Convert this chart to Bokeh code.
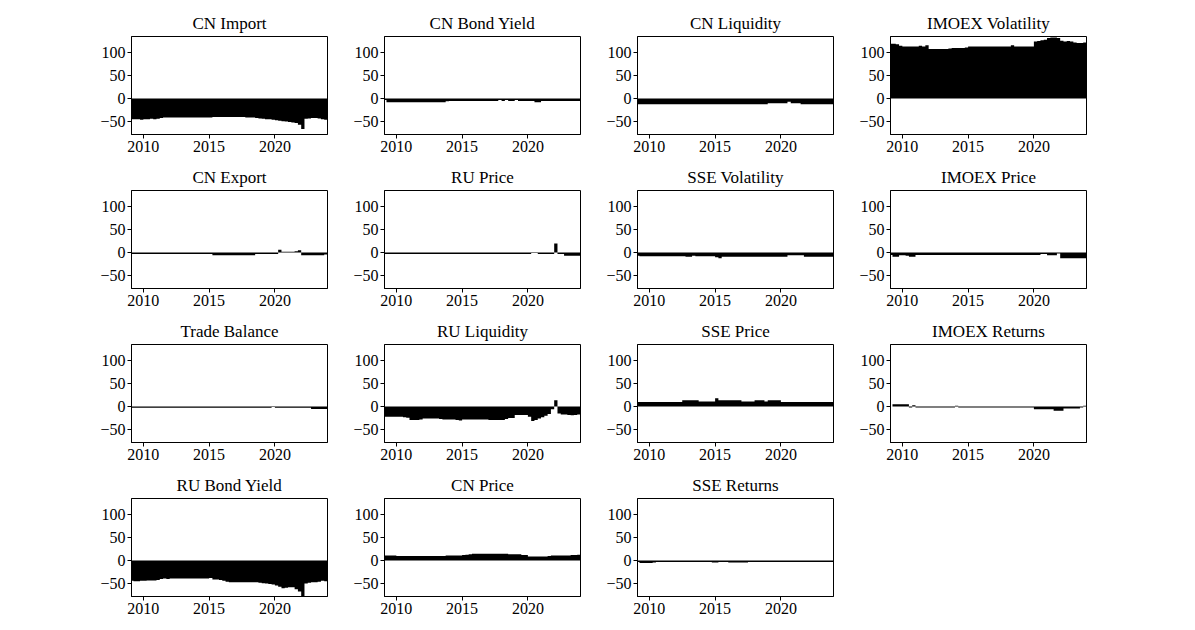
from bokeh.plotting import figure
from bokeh.layouts import row, column
from bokeh.models import Range1d, FixedTicker, CustomJSTickFormatter, Spacer
from bokeh.embed import file_html
from bokeh.resources import INLINE

# Quarterly time axis 2009Q1 .. 2023Q4 (quarter start dates)
years = list(range(2009, 2024))
quarter_starts = [y + q / 4 for y in years for q in range(4)]
series_end = 2024.0

# ---- series values (one per quarter) ----
cn_import = [-45, -45, -45, -46, -45, -45, -44, -45, -44, -42, -41, -41,
             -41, -41, -41, -41, -41, -41, -41, -41, -41, -41, -41, -41,
             -41, -40, -40, -40, -40, -40, -40, -40, -40, -40, -40, -41,
             -41, -41, -42, -43, -44, -45, -45, -46, -47, -48, -49, -50,
             -51, -52, -53, -57, -66, -44, -43, -42, -42, -43, -45, -46]
cn_bond_yield = [-3, -8, -8, -8, -8, -8, -8, -8, -8, -8, -8, -8,
                 -8, -8, -8, -8, -8, -8, -8, -6, -5, -5, -5, -5,
                 -5, -5, -5, -5, -5, -5, -5, -5, -5, -5, -5, -3,
                 -5, -3, -5, -5, -3, -5, -5, -5, -5, -5, -8, -8,
                 -5, -5, -5, -5, -5, -5, -5, -5, -5, -5, -5, -5]
cn_liquidity = [-12, -12, -12, -12, -12, -12, -12, -12, -12, -12, -12, -12,
                -12, -12, -12, -12, -12, -12, -12, -12, -12, -12, -12, -12,
                -12, -12, -12, -12, -12, -12, -12, -12, -12, -12, -12, -12,
                -12, -12, -12, -12, -10, -10, -10, -10, -10, -10, -7, -10,
                -10, -10, -12, -12, -12, -12, -12, -12, -12, -12, -12, -12]
imoex_volatility = [119, 119, 118, 115, 113, 113, 113, 113, 113, 115, 113, 116,
                    108, 108, 108, 108, 108, 108, 109, 110, 110, 110, 110, 111,
                    113, 113, 113, 113, 113, 113, 113, 113, 113, 113, 113, 113,
                    113, 116, 113, 113, 113, 113, 113, 113, 124, 125, 127, 128,
                    132, 133, 133, 132, 126, 124, 125, 124, 122, 121, 121, 122]
cn_export = [-3, -3, -3, -3, -3, -3, -3, -3, -3, -3, -3, -3,
             -3, -3, -3, -3, -3, -3, -3, -3, -3, -3, -3, -3,
             -3, -6, -6, -6, -6, -6, -6, -6, -6, -6, -6, -6,
             -6, -6, -3, -3, -3, -3, -3, -3, -3, 6, 2, 2,
             2, 2, 3, 5, -6, -6, -6, -6, -6, -6, -6, -4]
ru_price = [-3, -3, -3, -3, -3, -3, -3, -3, -3, -3, -3, -3,
            -3, -3, -3, -3, -3, -3, -3, -3, -3, -3, -3, -3,
            -3, -3, -3, -3, -3, -3, -3, -3, -3, -3, -3, -3,
            -3, -3, -3, -3, -3, -3, -3, -3, -3, -1, -1, -3,
            -3, -3, -3, -3, 20, -3, -3, -7, -7, -7, -7, -7]
sse_volatility = [-7, -8, -8, -8, -8, -8, -8, -8, -8, -8, -8, -8,
                  -8, -8, -8, -9, -9, -7, -8, -8, -8, -8, -8, -8,
                  -10, -12, -9, -9, -9, -9, -9, -9, -9, -9, -9, -9,
                  -9, -9, -9, -9, -9, -9, -9, -9, -9, -9, -6, -6,
                  -6, -6, -6, -9, -9, -9, -9, -9, -9, -9, -9, -9]
imoex_price = [-5, -9, -9, -6, -6, -7, -9, -9, -5, -5, -5, -5,
               -5, -5, -5, -5, -5, -5, -5, -5, -5, -5, -5, -5,
               -5, -5, -5, -5, -5, -5, -5, -5, -5, -5, -5, -5,
               -5, -5, -5, -5, -5, -5, -5, -5, -5, -5, -3, -3,
               -6, -6, -6, -2, -12, -12, -12, -12, -12, -12, -12, -12]
trade_balance = [-2.5, -2.5, -2.5, -2.5, -2.5, -2.5, -2.5, -2.5, -2.5, -2.5, -2.5, -2.5,
                 -2.5, -2.5, -2.5, -2.5, -2.5, -2.5, -2.5, -2.5, -2.5, -2.5, -2.5, -2.5,
                 -2.5, -2.5, -2.5, -2.5, -2.5, -2.5, -2.5, -2.5, -2.5, -2.5, -2.5, -2.5,
                 -2.5, -2.5, -2.5, -2.5, -2.5, -2.5, -2.5, -1, -2.5, -2.5, -2.5, -2.5,
                 -2.5, -2.5, -2.5, -2.5, -2.5, -2.5, -2.5, -5, -5, -5, -5, -5]
ru_liquidity = [-22, -22, -22, -22, -22, -22, -23, -24, -29, -29, -29, -28,
                -26, -26, -26, -26, -26, -27, -28, -28, -28, -28, -29, -30,
                -28, -28, -28, -28, -28, -28, -28, -28, -29, -29, -29, -29,
                -29, -27, -25, -25, -18, -18, -18, -18, -22, -31, -29, -26,
                -23, -20, -16, -6, 14, -15, -17, -17, -18, -19, -18, -17]
sse_price = [10, 10, 10, 10, 10, 10, 10, 10, 10, 10, 10, 10,
             10, 10, 14, 14, 14, 14, 14, 11, 11, 11, 11, 11,
             18, 14, 14, 14, 14, 14, 14, 14, 11, 11, 11, 11,
             14, 14, 14, 11, 14, 14, 14, 14, 10, 10, 10, 10,
             10, 10, 10, 10, 10, 10, 10, 10, 10, 10, 10, 10]
imoex_returns = [0, 5, 5, 5, 5, 5, -2, 3, -2, -2, -2, -2,
                 -2, -2, -2, -2, -2, -2, -2, -2, 2, -2, -2, -2,
                 -2, -2, -2, -2, -2, -2, -2, -2, -2, -2, -2, -2,
                 -2, -2, -2, -2, -2, -2, -2, -2, -6, -6, -6, -6,
                 -6, -6, -9, -9, -9, -4, -4, -4, -4, -4, -2, 2]
ru_bond_yield = [-44, -45, -45, -44, -44, -43, -43, -43, -42, -40, -39, -40,
                 -39, -39, -39, -39, -39, -39, -39, -39, -39, -39, -39, -39,
                 -38, -41, -41, -42, -44, -46, -47, -47, -47, -47, -47, -47,
                 -47, -47, -47, -48, -49, -50, -51, -52, -54, -57, -60, -59,
                 -58, -58, -62, -67, -80, -50, -48, -47, -47, -46, -44, -45]
cn_price = [11, 11, 11, 11, 10, 10, 10, 10, 10, 10, 10, 10,
            10, 10, 10, 10, 10, 10, 10, 11, 11, 11, 11, 11,
            12, 13, 14, 15, 15, 15, 15, 15, 15, 15, 15, 15,
            15, 15, 14, 14, 14, 14, 12, 12, 9, 9, 9, 9,
            9, 9, 10, 11, 11, 11, 11, 11, 11, 12, 12, 13]
sse_returns = [-3, -5, -5, -5, -5, -4, -3, -3, -3, -3, -3, -3,
               -3, -3, -3, -3, -3, -3, -3, -3, -3, -3, -3, -4,
               -4, -3, -3, -3, -4, -4, -4, -4, -4, -4, -3, -3,
               -3, -3, -3, -3, -3, -3, -3, -3, -3, -3, -3, -3,
               -3, -3, -3, -3, -3, -3, -3, -3, -3, -3, -3, -3]

x_ticks = [2010, 2015, 2020]
y_ticks = [-50, 0, 50, 100]

panels = [
    [("CN Import", cn_import), ("CN Bond Yield", cn_bond_yield),
     ("CN Liquidity", cn_liquidity), ("IMOEX Volatility", imoex_volatility)],
    [("CN Export", cn_export), ("RU Price", ru_price),
     ("SSE Volatility", sse_volatility), ("IMOEX Price", imoex_price)],
    [("Trade Balance", trade_balance), ("RU Liquidity", ru_liquidity),
     ("SSE Price", sse_price), ("IMOEX Returns", imoex_returns)],
    [("RU Bond Yield", ru_bond_yield), ("CN Price", cn_price),
     ("SSE Returns", sse_returns), None],
]

FONT = "Liberation Serif"
CELL_W, CELL_H = 253, 154


def make_panel(title, vals):
    p = figure(frame_width=196, frame_height=98,
               min_border_left=53, min_border_right=4,
               min_border_top=28, min_border_bottom=28,
               x_range=Range1d(2009.1, 2024.0), y_range=Range1d(-78, 135),
               output_backend="svg", toolbar_location=None,
               background_fill_color="white", border_fill_color="white")
    # step-filled bars (each quarter drawn from its start to the next start)
    xs = quarter_starts + [series_end]
    ys = list(vals) + [vals[-1]]
    p.varea_step(x=xs, y1=[0] * len(xs), y2=ys, step_mode="after",
                 fill_color="black")
    p.title.text = title
    p.title.align = "center"
    p.title.text_font = FONT
    p.title.text_font_size = "17px"
    p.title.text_font_style = "normal"
    p.title.text_color = "black"
    p.title.standoff = 7
    p.grid.visible = False
    p.outline_line_color = "black"
    p.outline_line_alpha = 1
    p.outline_line_width = 1
    p.xaxis.ticker = FixedTicker(ticks=x_ticks)
    p.yaxis.ticker = FixedTicker(ticks=y_ticks)
    p.yaxis.formatter = CustomJSTickFormatter(
        code="return tick < 0 ? '\u2212' + Math.abs(tick) : String(tick);")
    for ax in (p.xaxis, p.yaxis):
        ax.axis_line_color = "black"
        ax.major_tick_line_color = "black"
        ax.major_tick_in = 0
        ax.major_tick_out = 4
        ax.minor_tick_line_color = None
        ax.major_label_text_font = FONT
        ax.major_label_text_font_size = "16px"
        ax.major_label_text_color = "black"
        ax.major_label_standoff = 2
    return p


rows = [Spacer(width=10, height=8)]
for prow in panels:
    cells = [Spacer(width=78, height=CELL_H)]
    for item in prow:
        if item is None:
            cells.append(Spacer(width=CELL_W, height=CELL_H))
        else:
            cells.append(make_panel(*item))
    rows.append(row(*cells))

layout = column(*rows)

open("out.html", "w").write(file_html(layout, INLINE))
